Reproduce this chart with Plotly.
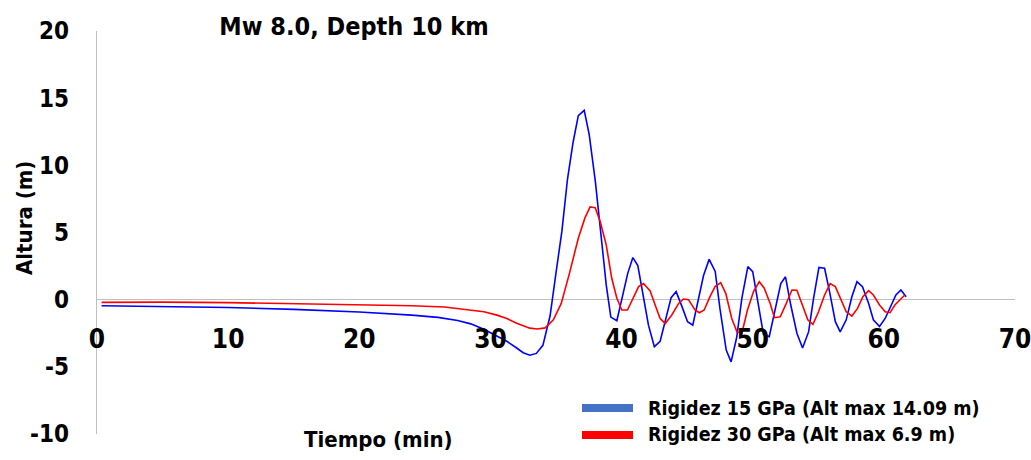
import plotly.graph_objects as go

# ---- data ----
t_15 = [0.35, 5, 10, 15, 20, 24, 26, 27.5, 28.5, 29.5, 30.5, 31.25, 32, 32.5, 33.0, 33.5, 34.0,
        34.55, 35.0, 35.45, 35.88, 36.3, 36.7, 37.15, 37.53, 38.0, 38.4, 38.83, 39.18, 39.64,
        40.47, 40.86, 41.24, 41.67, 42.05, 42.5, 42.94, 43.78, 44.16, 44.6, 45.03, 45.43, 45.87,
        46.25, 46.68, 47.14, 47.5, 47.98, 48.35, 48.78, 49.17, 49.63, 50.0, 50.44, 50.82, 51.26,
        51.7, 52.14, 52.5, 52.9, 53.37, 53.8, 54.26, 54.64, 55.05, 55.48, 55.86, 56.3, 56.67,
        57.13, 57.56, 57.95, 58.37, 58.84, 59.2, 59.67, 60.1, 60.54, 60.92, 61.3, 61.7]
h_15 = [-0.45, -0.5, -0.58, -0.72, -0.92, -1.15, -1.32, -1.55, -1.8, -2.2, -2.7, -3.1, -3.6,
        -3.95, -4.13, -4.0, -3.4, -1.2, 2.0, 5.1, 9.0, 11.7, 13.7, 14.09, 12.3, 8.8, 5.1, 1.1,
        -1.3, -1.57, 1.96, 3.13, 2.54, 0.1, -1.9, -3.5, -3.1, 0.15, 0.6, -0.5, -1.64, -1.9, 0.1,
        1.8, 3.0, 2.1, -0.65, -3.75, -4.63, -2.8, 0.1, 2.46, 2.09, -0.4, -2.6, -2.76, -0.65, 1.2,
        1.7, -0.4, -2.5, -3.6, -2.4, 0.1, 2.4, 2.34, 0.6, -1.64, -2.4, -1.5, 0.22, 1.34, 0.97,
        -0.28, -1.5, -2.0, -1.4, -0.5, 0.35, 0.72, 0.22]

t_30 = [0.35, 5, 10, 15, 20, 24, 26.5, 28, 29.5, 30.5, 31.25, 32, 32.5, 33.0, 33.6, 34.17, 34.8,
        35.4, 36.06, 36.7, 37.2, 37.6, 37.99, 38.37, 38.83, 39.25, 39.64, 40.02, 40.45, 40.9,
        41.3, 41.67, 42.18, 42.56, 42.94, 43.33, 43.83, 44.35, 44.72, 45.1, 45.6, 45.93, 46.3,
        46.74, 47.13, 47.56, 47.95, 48.4, 48.8, 49.17, 49.6, 50.06, 50.5, 50.88, 51.33, 51.66,
        52.1, 52.56, 52.99, 53.37, 53.82, 54.2, 54.59, 55.02, 55.48, 55.91, 56.3, 56.73, 57.13,
        57.56, 57.99, 58.4, 58.84, 59.2, 59.67, 60.1, 60.47, 60.84, 61.2, 61.6]
h_30 = [-0.2, -0.18, -0.22, -0.3, -0.35, -0.45, -0.55, -0.7, -0.9, -1.15, -1.4, -1.75, -1.95,
        -2.12, -2.18, -2.1, -1.5, -0.28, 2.09, 4.57, 6.07, 6.9, 6.85, 5.82, 4.08, 1.59, 0.1,
        -0.77, -0.77, 0.22, 0.97, 1.2, 0.65, -0.4, -1.4, -1.77, -1.14, -0.28, 0.05, 0.0, -0.77,
        -0.97, -0.77, 0.22, 0.97, 1.27, 0.45, -1.4, -2.4, -2.5, -0.77, 0.6, 1.34, 0.85, -0.28,
        -1.34, -1.27, -0.28, 0.72, 0.7, -0.5, -1.5, -1.84, -0.9, 0.35, 1.2, 0.97, -0.03, -0.9,
        -1.22, -0.65, 0.22, 0.67, 0.35, -0.4, -0.9, -0.97, -0.4, -0.02, 0.35]

names = ["Rigidez 15 GPa (Alt max 14.09 m)", "Rigidez 30 GPa (Alt max 6.9 m)"]
x_ticks = [0, 10, 20, 30, 40, 50, 60, 70]
y_ticks = [-10, -5, 0, 5, 10, 15, 20]

FONT = "DejaVu Sans Condensed, Liberation Sans Narrow, sans-serif"

fig = go.Figure()
fig.add_trace(go.Scatter(x=t_15, y=h_15, mode="lines", name=names[0],
                         line=dict(color="#0000FF", width=1.6), showlegend=False))
fig.add_trace(go.Scatter(x=t_30, y=h_30, mode="lines", name=names[1],
                         line=dict(color="#FF0000", width=1.6), showlegend=False))

W, H = 1031, 460
ml, mr, mt, mb = 97, 16, 31, 26
pw, ph = W - ml - mr, H - mt - mb

def px(x):
    return (x - ml) / pw

def py(y):
    return (H - mb - y) / ph

fig.update_layout(
    width=W, height=H,
    margin=dict(l=ml, r=mr, t=mt, b=mb, autoexpand=False),
    plot_bgcolor="white", paper_bgcolor="white",
    font=dict(family=FONT, color="black"),
    title=dict(text="<b>Mw 8.0, Depth 10 km</b>", x=354 / W, xanchor="center",
               y=1 - 26 / H, yanchor="middle", font=dict(size=25, family=FONT, color="black")),
    xaxis=dict(range=[0, 70], tickvals=x_ticks, ticktext=[f"<b>{v}</b>" for v in x_ticks],
               showgrid=False, zeroline=False, showline=False, ticks="",
               anchor="free", position=py(321), ticklabeloverflow="allow", automargin=False,
               tickfont=dict(size=26, family=FONT, color="black")),
    yaxis=dict(range=[-10, 20], tickvals=y_ticks, ticktext=[f"<b>{v}</b>" for v in y_ticks],
               showgrid=False, zeroline=True, zerolinecolor="#BFBFBF", zerolinewidth=1.2,
               showline=True, linecolor="#BFBFBF", linewidth=1.2, ticks="",
               ticklabelstandoff=22, automargin=False,
               tickfont=dict(size=24, family=FONT, color="black")),
    showlegend=False,
)

fig.add_annotation(text="<b>Altura (m)</b>", textangle=-90, xref="paper", yref="paper",
                   x=px(24), y=py(218), xanchor="center", yanchor="middle", showarrow=False,
                   font=dict(size=22, family=FONT, color="black"))
fig.add_annotation(text="<b>Tiempo (min)</b>", xref="paper", yref="paper",
                   x=px(378), y=py(439), xanchor="center", yanchor="middle", showarrow=False,
                   font=dict(size=22, family=FONT, color="black"))

# manual legend
leg_colors = ["#4472C4", "#FF0000"]
leg_y = [408, 435]
for name, col, yy in zip(names, leg_colors, leg_y):
    fig.add_shape(type="rect", xref="paper", yref="paper",
                  x0=px(582), x1=px(633), y0=py(yy + 4), y1=py(yy - 4),
                  fillcolor=col, line=dict(width=0))
    fig.add_annotation(text=f"<b>{name}</b>", xref="paper", yref="paper",
                       x=px(646), y=py(yy), xanchor="left", yanchor="middle", showarrow=False,
                       font=dict(size=19.5, family=FONT, color="black"))

fig.write_html("out.html")
